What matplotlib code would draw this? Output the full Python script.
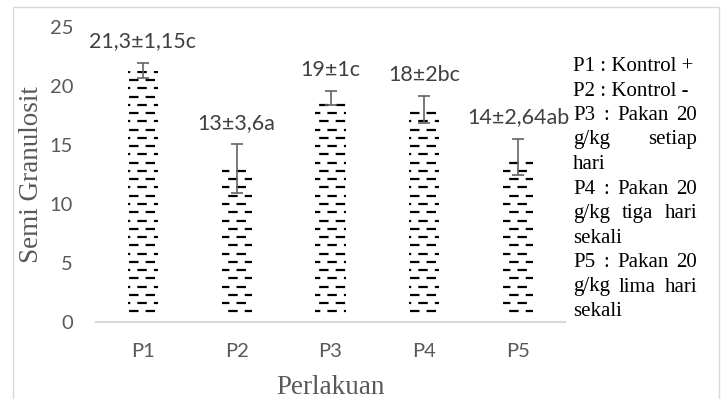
# Imports =====================================================================
import numpy as np
import matplotlib
matplotlib.use("Agg")
import matplotlib.pyplot as plt
from matplotlib.patches import Rectangle

# Data ========================================================================
categories = ["P1", "P2", "P3", "P4", "P5"]
means = [21.3, 13, 19, 18, 14]
sd = [1.15, 3.6, 1, 2, 2.64]
means_text = ["21,3", "13", "19", "18", "14"]
sd_text = ["1,15", "3,6", "1", "2", "2,64"]
notation = ["c", "a", "c", "bc", "ab"]
n_rep = 3  # replicates, error bars show the standard error
legend_paragraphs = [
    ["P1 : Kontrol +"],
    ["P2 : Kontrol -"],
    ["P3 : Pakan 20", "g/kg setiap", "hari"],
    ["P4 : Pakan 20", "g/kg tiga hari", "sekali"],
    ["P5 : Pakan 20", "g/kg lima hari", "sekali"],
]

# Style =======================================================================
plt.rcParams["lines.scale_dashes"] = False
W, H = 723, 399
sans = ["Lato", "DejaVu Sans"]
serif = ["Liberation Serif", "DejaVu Serif"]
grey = "#595959"


def px(x, y):
    """pixel position (from top-left) -> figure fraction"""
    return x / W, 1 - y / H


# Figure ======================================================================
fig = plt.figure(figsize=(W / 100, H / 100), dpi=100)
ax = fig.add_axes([96 / W, (H - 322) / H, 469 / W, 295 / H])

x = np.arange(len(categories))
se = np.array(sd) / np.sqrt(n_rep)
bars = ax.bar(x, means, width=0.32, color="white", edgecolor="none", zorder=2)

# dashed horizontal pattern inside every bar
row_step = 0.7
for i, rect in enumerate(bars):
    k = 0
    y = 0.9
    while y < rect.get_height():
        off = 0 if k % 2 == 0 else 5.94
        ln, = ax.plot([-0.5, 4.5], [y, y], color="black", lw=1.6,
                      linestyle=(off, (6.8, 5.1)), solid_capstyle="butt",
                      dash_capstyle="butt", zorder=3)
        ln.set_clip_path(rect)
        k += 1
        y += row_step

ax.errorbar(x, means, yerr=se, fmt="none", ecolor="#636363", elinewidth=1.2,
            capsize=4.3, capthick=1.2, zorder=4)

# value labels
for i in range(len(categories)):
    ax.text(x[i], means[i] + se[i] + 1.8,
            f"{means_text[i]}±{sd_text[i]}{notation[i]}",
            ha="center", va="center", fontsize=15.5, color="#404040",
            family=sans)

# Axes ========================================================================
ax.set_xlim(-0.5, 4.5)
ax.set_ylim(0, 25)
ax.set_yticks([0, 5, 10, 15, 20, 25])
ax.set_xticks(x)
ax.set_xticklabels(categories)
for s in ["top", "right", "left"]:
    ax.spines[s].set_visible(False)
ax.spines["bottom"].set_color("#d9d9d9")
ax.spines["bottom"].set_linewidth(1.5)
ax.tick_params(axis="both", length=0, labelsize=14.5, labelcolor=grey)
ax.tick_params(axis="y", pad=16.5)
ax.tick_params(axis="x", pad=15)
for lab in ax.get_xticklabels() + ax.get_yticklabels():
    lab.set_family(sans)

ax.set_xlabel("Perlakuan", fontsize=19.5, color=grey, family=serif)
ax.xaxis.set_label_coords(0.5, -(387 - 322) / 295)
ax.xaxis.label.set_va("center")
ax.set_ylabel("Semi Granulosit", fontsize=19.5, color=grey, family=serif)
ax.yaxis.set_label_coords((32 - 96) / 469, 0.5)
ax.yaxis.label.set_va("center")

# chart border
x0, y0 = px(13, 7)
x1, _ = px(719, 7)
fig.patches.append(Rectangle((x0, -0.1), x1 - x0, y0 + 0.1,
                             transform=fig.transFigure, fill=False,
                             edgecolor="#d9d9d9", lw=1, clip_on=False))

# Treatment notes, justified like a text box ==================================
renderer = fig.canvas.get_renderer()
left, right = 573, 697
line_gap = 24.5
baseline = 71
for para in legend_paragraphs:
    for j, line in enumerate(para):
        fx, fy = px(left, baseline)
        last = j == len(para) - 1
        if last:
            fig.text(fx, fy, line, fontsize=15, family=serif, color="black",
                     va="baseline", ha="left")
        else:
            words = line.split(" ")
            items = [fig.text(0, fy, w, fontsize=15, family=serif,
                              va="baseline", ha="left") for w in words]
            widths = [t.get_window_extent(renderer).width for t in items]
            gap = (right - left - sum(widths)) / (len(words) - 1)
            xpos = left
            for t, w in zip(items, widths):
                t.set_x(xpos / W)
                xpos += w + gap
        baseline += line_gap

fig.savefig("out.png", dpi=100)
